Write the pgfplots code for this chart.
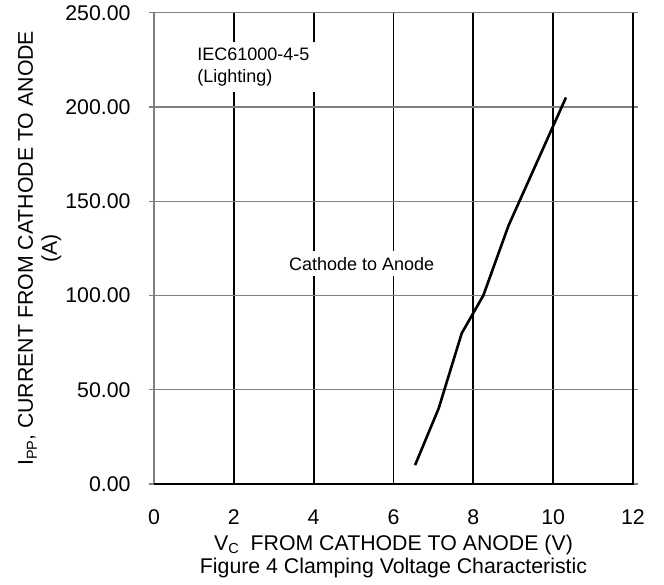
\documentclass[border=0pt]{standalone}
\usepackage{fontspec}
\setmainfont{Liberation Sans}
\usepackage{pgfplots}
\pgfplotsset{compat=1.18}
\begin{document}
\begin{tikzpicture}
\begin{axis}[
  name=ax,
  scale only axis, width=479pt, height=471.3pt,
  xmin=0, xmax=12, ymin=0, ymax=250,
  xtick={0,2,...,12}, ytick={0,50,...,250},
  axis line style={draw=none},
  clip=false,
  xmajorgrids, ymajorgrids,
  x grid style={black, line width=1.9pt},
  y grid style={gray, line width=1.3pt},
  tick align=outside,
  xtick style={draw=none, /pgfplots/major tick length=0pt},
  ytick style={gray, line width=1.3pt, /pgfplots/major tick length=5pt},
  /pgf/number format/assume math mode=true,
  yticklabel style={/pgf/number format/.cd, fixed, fixed zerofill, precision=2, /tikz/.cd,
    font=\fontsize{21.3}{21.3}\selectfont, anchor=east, inner sep=0pt, xshift=-19pt},
  xticklabel style={font=\fontsize{21.3}{21.3}\selectfont, anchor=base, inner sep=0pt, yshift=-36pt},
  xlabel={V\raisebox{-0.35ex}{\fontsize{14.5}{14.5}\selectfont C}\ \ FROM CATHODE TO ANODE (V)},
  xlabel style={font=\fontsize{21.3}{21.3}\selectfont, at={(axis description cs:0.5,-0.14004)}, anchor=base, inner sep=0pt},
  ylabel={I\raisebox{-0.35ex}{\fontsize{14.5}{14.5}\selectfont PP}, CURRENT FROM CATHODE TO ANODE},
  ylabel style={font=\fontsize{21.3}{21.3}\selectfont, at={(axis description cs:-0.25261,0.5)}, anchor=base, inner sep=0pt},
]
\addplot[black, line width=2.6pt, no markers] coordinates {
  (6.54,10) (7.13,40) (7.71,80) (8.25,100) (8.88,137) (10.32,205)
};
\draw[gray, line width=1.9pt] (rel axis cs:0,0) -- (rel axis cs:0,1);
\draw[gray, line width=1.3pt] (rel axis cs:0,1) -- (rel axis cs:1,1);
\draw[black, line width=1.6pt] (rel axis cs:0,0) -- (rel axis cs:1,0) -- (rel axis cs:1,1);
\node[fill=white, inner xsep=6pt, inner ysep=6pt, align=left, anchor=north west,
  font=\fontsize{18}{22}\selectfont] at (axis cs:0.93,234.5) {IEC61000-4-5\\(Lighting)};
\node[fill=white, inner sep=6pt, anchor=base west, font=\fontsize{18}{22}\selectfont]
  at (axis cs:3.23,113.5) {Cathode to Anode};
\node[rotate=90, anchor=base, inner sep=0pt, font=\fontsize{21.3}{21.3}\selectfont]
  at (axis description cs:-0.20251,0.5) {(A)};
\node[anchor=base, inner sep=0pt, font=\fontsize{21.3}{21.3}\selectfont]
  at (axis description cs:0.5,-0.18884) {Figure 4 Clamping Voltage Characteristic};
\end{axis}
\path[use as bounding box] (ax.south west) ++(-154pt,-100pt) rectangle ++(664pt,584pt);
\end{tikzpicture}
\end{document}
